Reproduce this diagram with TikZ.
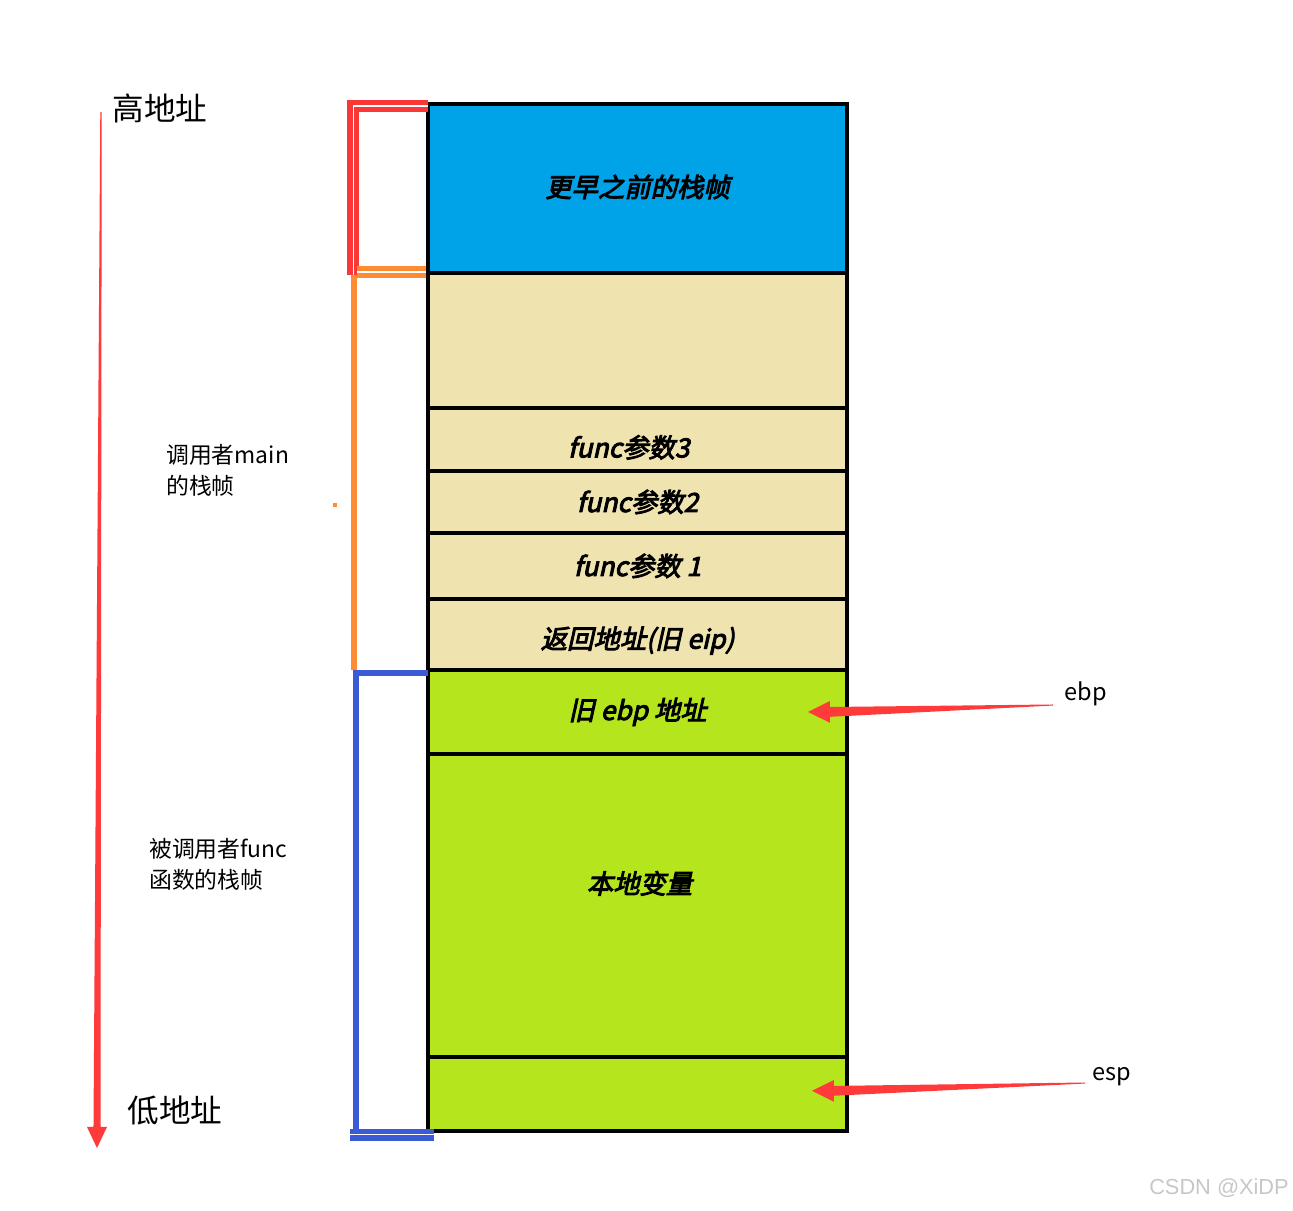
\documentclass[tikz,border=0pt]{standalone}
\usepackage{fontspec}
\setmainfont{Noto Sans CJK SC}
\newfontfamily\cellfont[FakeSlant=0.22,FakeBold=3.5]{Noto Sans CJK SC}
\newfontfamily\wmfont{Liberation Sans}
\usetikzlibrary{calc,positioning}

\definecolor{stackblue}{RGB}{0,162,232}
\definecolor{stacktan}{RGB}{239,228,176}
\definecolor{stackgreen}{RGB}{181,230,29}
\definecolor{arrowred}{RGB}{255,58,58}
\definecolor{brkred}{RGB}{250,55,55}
\definecolor{brkorange}{RGB}{255,140,50}
\definecolor{brkblue}{RGB}{59,91,214}

% tapered red arrows (tail thin, head at #2)
\newcommand\taperleft[2]{\fill[arrowred] let \p1=(#1), \p2=(#2) in
  (\x1,\y1+0.3pt) -- (\x2+12.5pt,\y2+2.8pt) -- (\x2+12.5pt,\y2+6.2pt) -- (\x2,\y2)
  -- (\x2+12.5pt,\y2-6.2pt) -- (\x2+12.5pt,\y2-2.8pt) -- (\x1,\y1-0.3pt) -- cycle;}
\newcommand\taperdown[2]{\fill[arrowred] let \p1=(#1), \p2=(#2) in
  (\x1-0.4pt,\y1) -- (\x2-2pt,\y2+12pt) -- (\x2-5.7pt,\y2+12pt) -- (\x2,\y2)
  -- (\x2+5.7pt,\y2+12pt) -- (\x2+2pt,\y2+12pt) -- (\x1+0.4pt,\y1) -- cycle;}

\begin{document}
\begin{tikzpicture}[x=0.02cm, y=-0.02cm]
  \tikzstyle{celltext}=[font=\cellfont\fontsize{15}{18}\selectfont]
  \tikzstyle{cell}=[draw, line width=2.3pt, outer sep=0pt, inner sep=0pt, minimum width=8.38cm, celltext]
  \tikzstyle{side}=[align=left, anchor=west, font=\fontsize{13}{17.6}\selectfont]
  \tikzstyle{addr}=[font=\fontsize{18}{22}\selectfont]
  \tikzstyle{reg}=[font=\fontsize{13.4}{16}\selectfont]
  \tikzstyle{dbl}=[line width=3pt, double=white, double distance=0.6pt]
  \useasboundingbox (0,0) rectangle (1293,1210);

  % stack cells
  \node[cell, fill=stackblue, minimum height=3.38cm] (older) at (637.5,188.5) {\raisebox{3pt}{更早之前的栈帧}};
  \node[cell, fill=stacktan, minimum height=2.70cm, below=0pt of older] (mainvars) {};
  \node[cell, fill=stacktan, minimum height=1.26cm, below=0pt of mainvars,
    label={[celltext, yshift=-4.5pt, xshift=-5pt]center:func参数3}] (arg3) {};
  \node[cell, fill=stacktan, minimum height=1.24cm, below=0pt of arg3] (arg2) {func参数2};
  \node[cell, fill=stacktan, minimum height=1.32cm, below=0pt of arg2] (arg1) {func参数 1};
  \node[cell, fill=stacktan, minimum height=1.42cm, below=0pt of arg1,
    label={[celltext, yshift=-3.5pt]center:返回地址(旧 eip)}] (ret) {};
  \node[cell, fill=stackgreen, minimum height=1.68cm, below=0pt of ret] (oldebp) {旧 ebp 地址};
  \node[cell, fill=stackgreen, minimum height=6.06cm, below=0pt of oldebp] (locals) {};
  \node[cell, fill=stackgreen, minimum height=1.48cm, below=0pt of locals] (stacktop) {};
  \node[celltext] (localtxt) at ($(locals.center)+(2,-22)$) {本地变量};

  % frame brackets
  \draw[dbl, draw=brkred] ($(older.north west)+(0,2)$) -| ($(older.south west)+(-75,2)$);
  \draw[dbl, draw=brkorange] ($(mainvars.north west)+(-2,-1)$) -- ++(-69,0);
  \draw[brkorange, line width=3.2pt] ($(mainvars.north west)+(-74,2)$) -- ($(ret.south west)+(-74,0)$);
  \fill[brkorange] (333,503) rectangle (337,507);
  \draw[brkblue, line width=3pt] (oldebp.north west) ++(0,3) -| ($(stacktop.south west)+(-72,0)$);
  \draw[dbl, draw=brkblue] ($(stacktop.south west)+(-78,4)$) -- ++(84,0);

  % labels
  \node[addr] (hi) at (160,108) {高地址};
  \node[addr] (lo) at (175,1111) {低地址};
  \node[side] (maininfo) at (160,470) {调用者main\\的栈帧};
  \node[side] (funcinfo) at (143,864) {被调用者func\\函数的栈帧};
  \node[reg] (ebp) at (1086,694) {ebp};
  \node[reg] (esp) at (1112,1077) {esp};
  \node[font=\wmfont\fontsize{12.4}{15}\selectfont, text=black!22] (mark) at (1219,1188) {CSDN @XiDP};

  % arrows
  \coordinate (addrtop) at (101,112);
  \coordinate (addrbot) at (97,1148);
  \coordinate (ebptail) at ($(ebp.center)+(-33,11)$);
  \coordinate (ebptip) at ($(oldebp.east)+(-39,0)$);
  \coordinate (esptail) at ($(esp.center)+(-27,6)$);
  \coordinate (esptip) at ($(stacktop.east)+(-35,-3)$);
  \taperdown{addrtop}{addrbot}
  \taperleft{ebptail}{ebptip}
  \taperleft{esptail}{esptip}
\end{tikzpicture}
\end{document}
